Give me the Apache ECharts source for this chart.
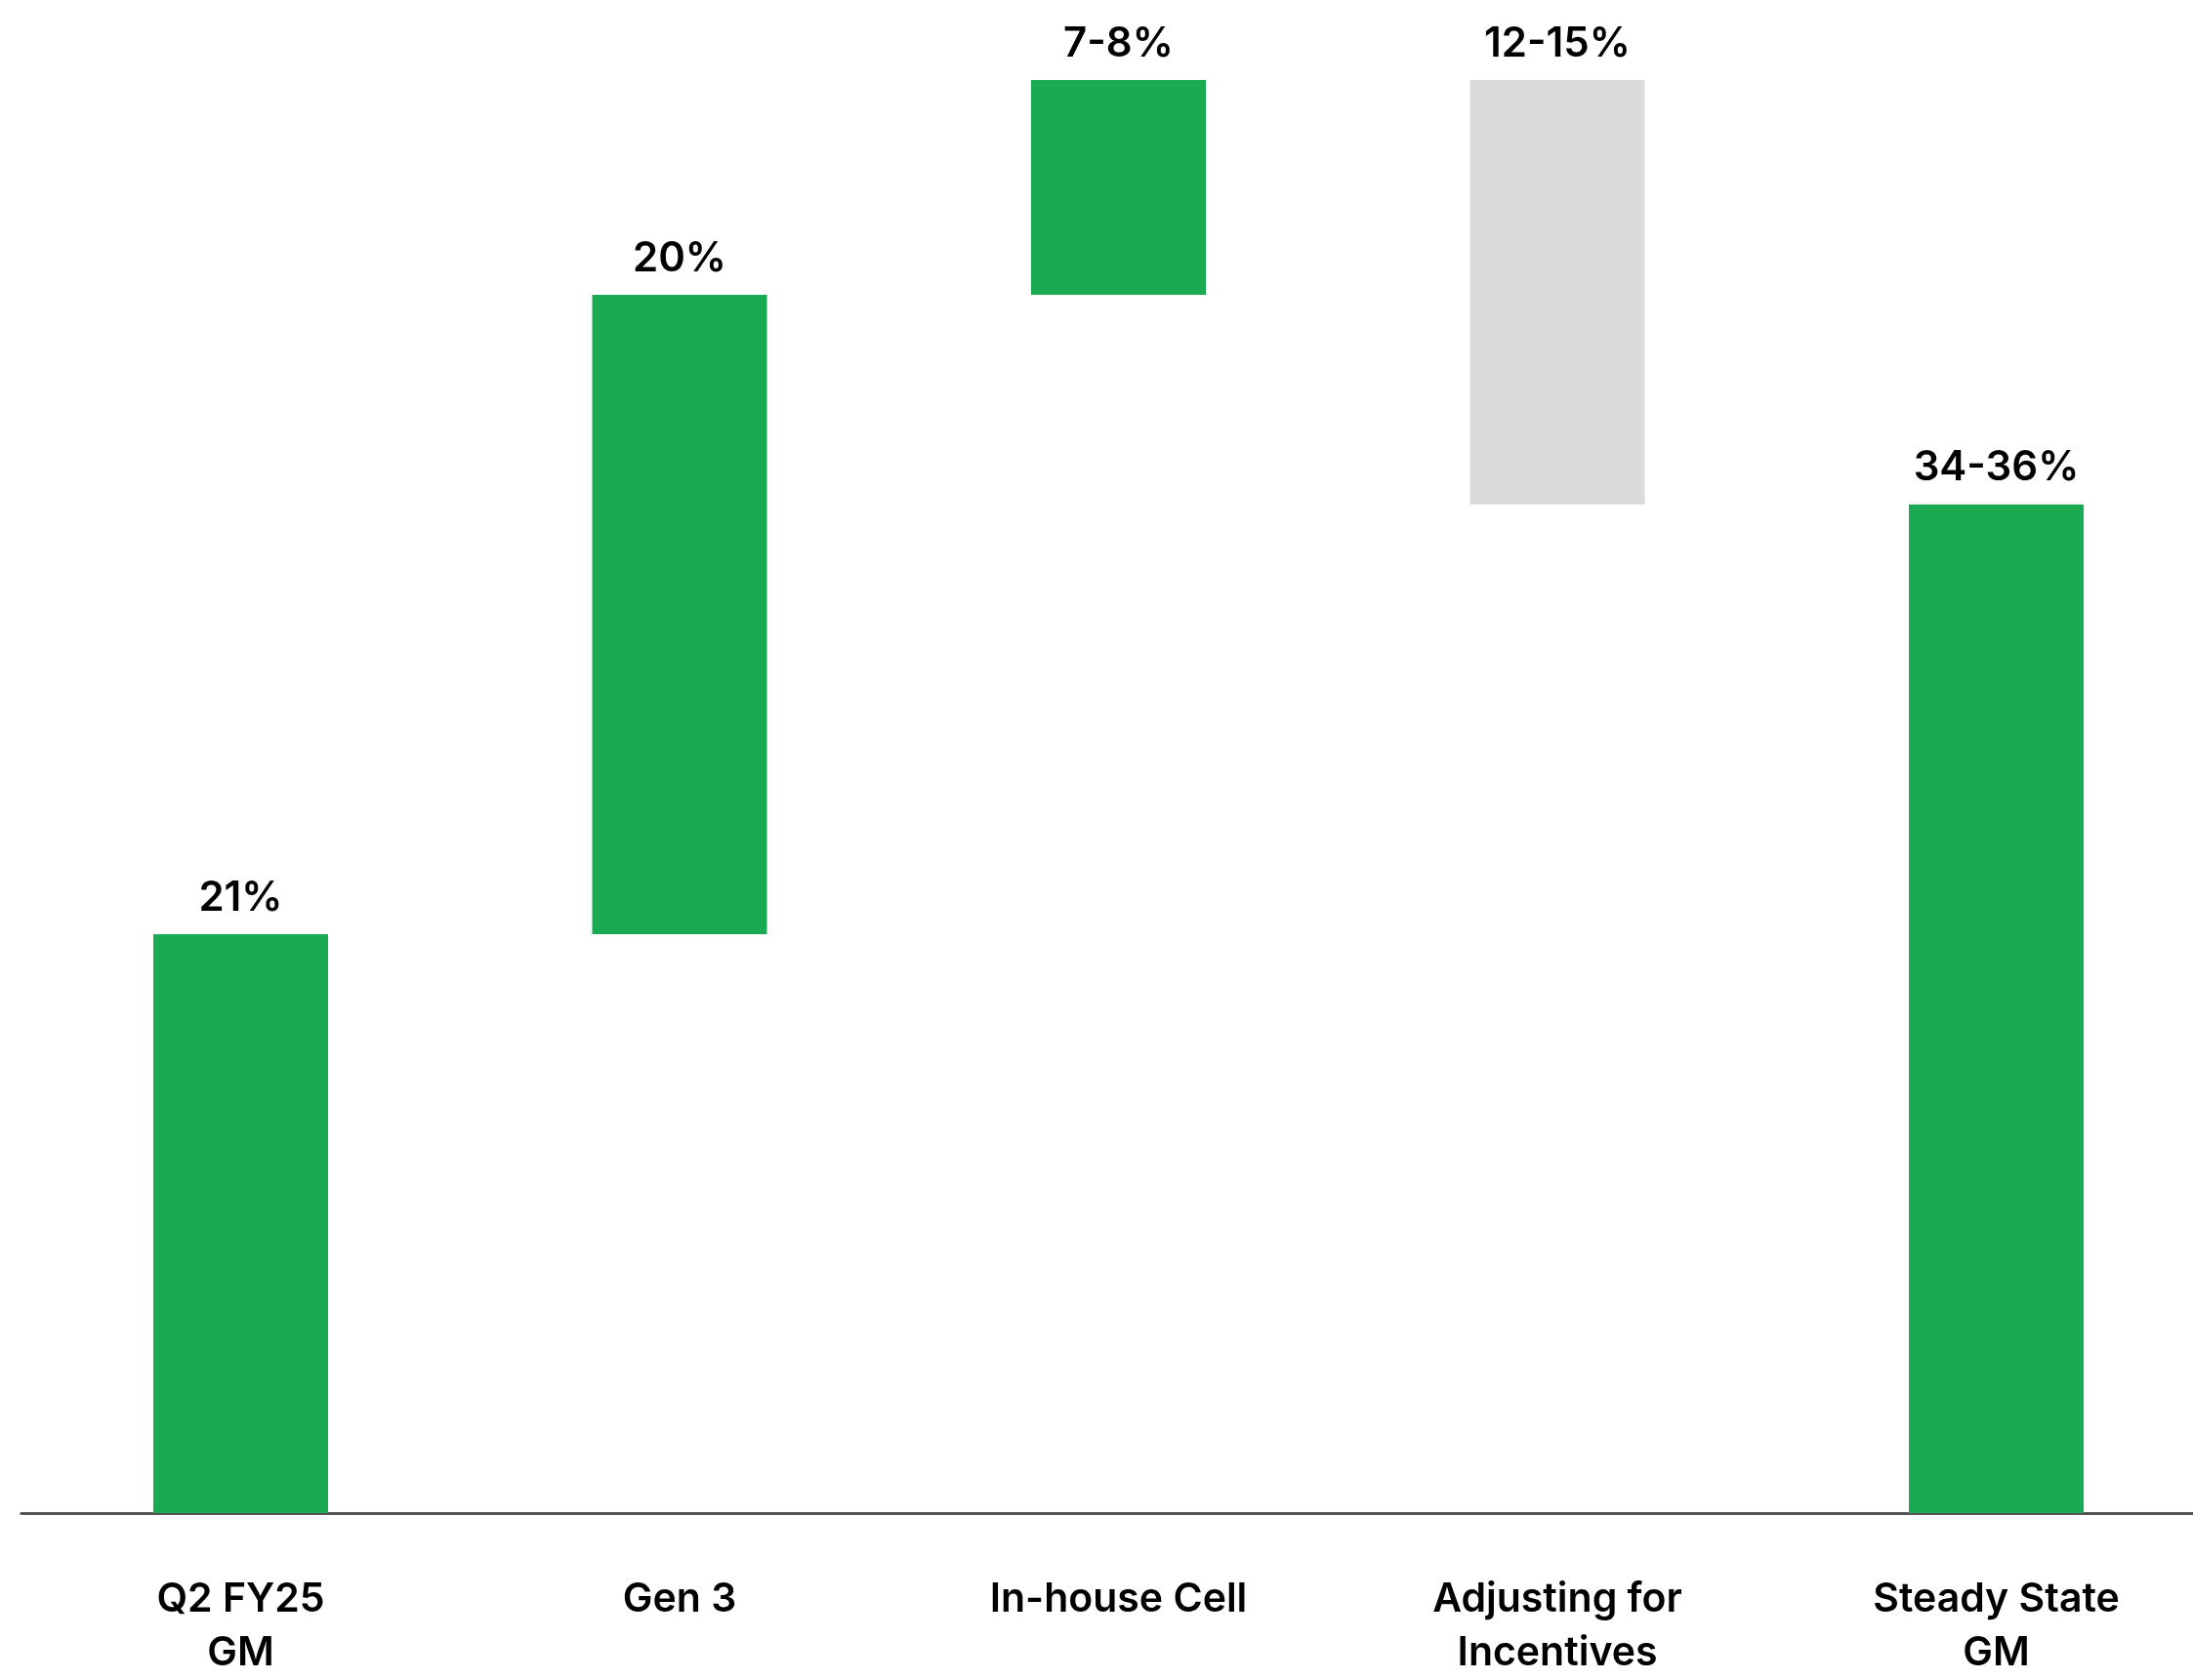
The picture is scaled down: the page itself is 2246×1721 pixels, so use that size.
<!DOCTYPE html>
<html>
<head>
<meta charset="utf-8">
<style>
html,body{margin:0;padding:0;background:#fff;overflow:hidden;}
#chart{width:2270px;height:1721px;}
</style>
<script src="https://cdn.jsdelivr.net/npm/echarts@6/dist/echarts.min.js"></script>
</head>
<body>
<div id="chart"></div>
<script>
// Categories
const categories = ['Q2 FY25\nGM', 'Gen 3', 'In-house Cell', 'Adjusting for\nIncentives', 'Steady State\nGM'];
// Bar extents (in GM percentage points, as drawn)
const barLow  = [0, 21, 44.2, 36.6, 0];
const barHigh = [21, 44.2, 52, 52, 36.6];
// Value labels shown above bars
const valueLabels = ['21%', '20%', '7-8%', '12-15%', '34-36%'];
// Bar kinds: increase/total = green, decrease = gray
const barKinds = ['total', 'up', 'up', 'down', 'total'];

const GREEN = '#19AA52';
const GRAY = '#DBDBDB';

const baseData = barLow.map(v => v);
const deltaData = barHigh.map((h, i) => ({
  value: h - barLow[i],
  itemStyle: { color: barKinds[i] === 'down' ? GRAY : GREEN },
  label: { formatter: valueLabels[i] }
}));

const chart = echarts.init(document.getElementById('chart'));
chart.setOption({
  animation: false,
  backgroundColor: '#ffffff',
  grid: { left: 21.75, right: 0.75, top: 0, bottom: 164.5, containLabel: false },
  xAxis: {
    type: 'category',
    data: categories,
    axisLine: { show: true, lineStyle: { color: '#555555', width: 3 } },
    axisTick: { show: false },
    axisLabel: {
      interval: 0,
      color: '#000000',
      fontFamily: 'Inter',
      fontWeight: 600,
      fontSize: 41,
      lineHeight: 55,
      margin: 61
    }
  },
  yAxis: {
    type: 'value',
    min: 0,
    max: 54.9,
    show: false,
    splitLine: { show: false }
  },
  series: [
    {
      name: 'base',
      type: 'bar',
      stack: 'wf',
      barWidth: 179,
      itemStyle: { color: 'rgba(0,0,0,0)' },
      emphasis: { disabled: true },
      data: baseData
    },
    {
      name: 'delta',
      type: 'bar',
      stack: 'wf',
      barWidth: 179,
      label: {
        show: true,
        position: 'top',
        distance: 16,
        color: '#000000',
        fontFamily: 'Inter',
        fontWeight: 600,
        fontSize: 42
      },
      data: deltaData
    }
  ]
});
</script>
</body>
</html>
